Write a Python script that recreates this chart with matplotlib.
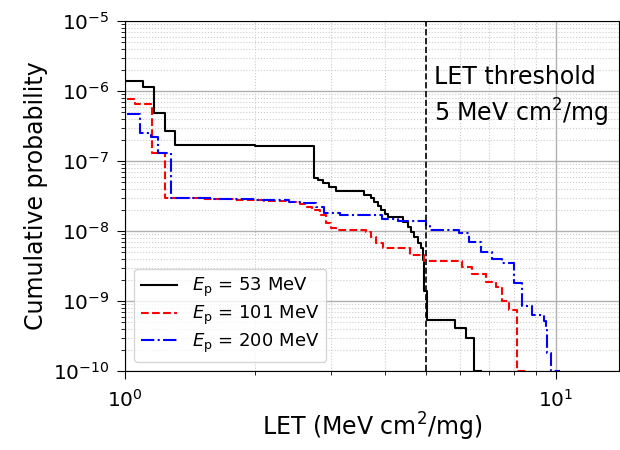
import matplotlib
matplotlib.use("Agg")
import matplotlib.pyplot as plt
from matplotlib.ticker import LogLocator, NullFormatter

# step curves: LET value where each level starts, cumulative probability of that level
let_53 = [0.9, 1.10, 1.167, 1.237, 1.305, 2.0, 2.75, 2.80, 2.88, 2.98, 3.09, 3.59, 3.72, 3.79, 3.86,
          3.93, 4.00, 4.07, 4.41, 4.53, 4.61, 4.69, 4.77, 4.86, 4.90, 4.95, 5.03, 5.84, 6.19, 6.46, 6.7]
prob_53 = [1.4e-6, 1.15e-6, 4.8e-7, 2.7e-7, 1.67e-7, 1.62e-7, 5.66e-8, 5.35e-8, 4.8e-8, 4.2e-8, 3.77e-8,
           3.27e-8, 2.93e-8, 2.62e-8, 2.28e-8, 2.0e-8, 1.75e-8, 1.57e-8, 1.36e-8, 1.15e-8, 9.8e-9, 8.3e-9,
           6.7e-9, 5.65e-9, 3.9e-9, 1.4e-9, 5.4e-10, 4.1e-10, 3.0e-10, 1.0e-10, 1.0e-10]

let_101 = [0.9, 1.055, 1.153, 1.237, 1.5, 1.8, 2.1, 2.4, 2.54, 2.65, 2.72, 2.83, 2.93, 3.01, 3.09, 3.63,
           3.72, 3.82, 3.96, 4.57, 4.95, 6.06, 6.39, 6.88, 7.25, 7.50, 7.78, 8.13, 8.6]
prob_101 = [7.7e-7, 6.5e-7, 1.3e-7, 3.0e-8, 2.85e-8, 2.75e-8, 2.68e-8, 2.58e-8, 2.43e-8, 2.2e-8, 2.0e-8,
            1.7e-8, 1.3e-8, 1.1e-8, 1.04e-8, 9.8e-9, 8.3e-9, 6.7e-9, 5.65e-9, 4.6e-9, 3.7e-9, 3.1e-9,
            2.4e-9, 1.9e-9, 1.6e-9, 1.0e-9, 7.4e-10, 1.0e-10, 1.0e-10]

let_200 = [0.9, 1.083, 1.15, 1.19, 1.28, 1.6, 2.0, 2.4, 2.6, 2.78, 2.9, 3.15, 3.95, 4.3, 5.0, 5.1, 5.96,
           6.29, 6.70, 7.11, 7.5, 8.0, 8.34, 8.8, 9.38, 9.45, 9.5, 9.73, 10.2]
prob_200 = [4.7e-7, 2.5e-7, 2.2e-7, 1.3e-7, 2.95e-8, 2.85e-8, 2.75e-8, 2.6e-8, 2.5e-8, 2.2e-8, 1.8e-8,
            1.7e-8, 1.5e-8, 1.37e-8, 1.17e-8, 1.04e-8, 9.4e-9, 7.0e-9, 5.0e-9, 4.0e-9, 3.5e-9, 1.8e-9,
            8.4e-10, 6.3e-10, 5.2e-10, 3.8e-10, 1.8e-10, 1.0e-10, 1.0e-10]

let_threshold = 5.0

fig = plt.figure(figsize=(6.2, 4.5), dpi=100)
ax = fig.add_axes([0.2016, 0.1756, 0.797, 0.7774])

ax.plot(let_53, prob_53, drawstyle="steps-post", color="black", linestyle="-", linewidth=1.5,
        label=r"$E_{\rm p}$ = 53 MeV")
ax.plot(let_101, prob_101, drawstyle="steps-post", color="red", linestyle="--", linewidth=1.5,
        label=r"$E_{\rm p}$ = 101 MeV")
ax.plot(let_200, prob_200, drawstyle="steps-post", color="blue", linestyle="-.", linewidth=1.5,
        label=r"$E_{\rm p}$ = 200 MeV")
ax.axvline(let_threshold, color="black", linestyle="--", linewidth=1.2)

ax.set_xscale("log")
ax.set_yscale("log")
ax.set_xlim(1, 14)
ax.set_ylim(1e-10, 1e-5)

ax.yaxis.set_major_locator(LogLocator(base=10, numticks=10))
ax.yaxis.set_minor_locator(LogLocator(base=10, subs=range(2, 10), numticks=20))
ax.yaxis.set_minor_formatter(NullFormatter())
ax.xaxis.set_minor_formatter(NullFormatter())

ax.grid(which="major", color="#b0b0b0", linestyle="-", linewidth=1.0)
ax.grid(which="minor", color="#cccccc", linestyle=":", linewidth=0.8)
ax.set_axisbelow(True)

ax.tick_params(axis="both", which="major", labelsize=14.5, length=6, pad=5)
ax.tick_params(axis="x", which="major", pad=7)
ax.tick_params(axis="both", which="minor", length=3)
ax.set_xlabel("LET (MeV cm$^2$/mg)", fontsize=17, labelpad=0)
ax.set_ylabel("Cumulative probability", fontsize=17, labelpad=4)

ax.text(5.2, 8.2e-7, "LET threshold\n5 MeV cm$^2$/mg", fontsize=17, va="center", ha="left",
        linespacing=1.3)

ax.legend(loc="lower left", fontsize=13, labelspacing=0.25, framealpha=0.8)

fig.savefig("out.png", dpi=100)
